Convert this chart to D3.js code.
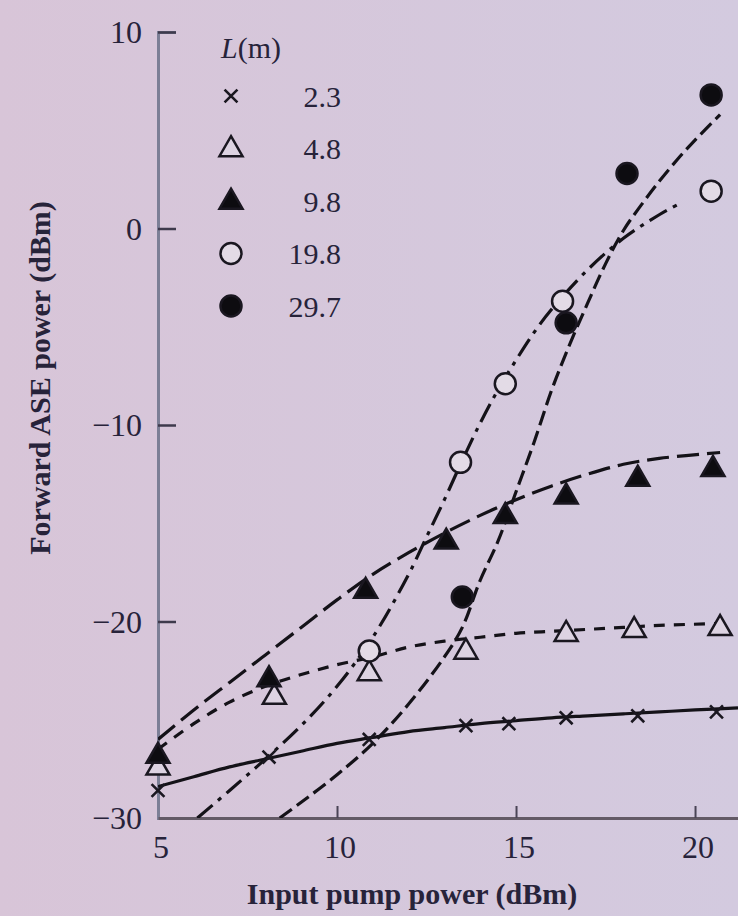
<!DOCTYPE html>
<html>
<head>
<meta charset="utf-8">
<script src="https://cdn.jsdelivr.net/npm/d3@7"></script>
<style>
  body { margin: 0; background: #d6c7db; }
  svg { display: block; }
  text { font-family: "Liberation Serif", "DejaVu Serif", serif; fill: #27233a; }
</style>
</head>
<body>
<svg id="chart" width="738" height="916"></svg>
<script>
// fibre lengths shown in the legend
var lengths = ["2.3", "4.8", "9.8", "19.8", "29.7"];
var xTicks = [5, 10, 15, 20];
var yTicks = [-30, -20, -10, 0, 10];

// measured points [pump dBm, ASE dBm]
var pts23 = [[5, -28.6], [8.1, -26.9], [10.9, -26.0], [13.6, -25.3], [14.8, -25.2], [16.4, -24.9], [18.4, -24.8], [20.6, -24.6]];
var pts48 = [[5, -27.4], [8.25, -23.8], [10.9, -22.6], [13.6, -21.5], [16.4, -20.6], [18.3, -20.4], [20.7, -20.3]];
var pts98 = [[5, -26.8], [8.1, -22.9], [10.8, -18.4], [13.05, -15.9], [14.7, -14.6], [16.4, -13.6], [18.4, -12.7], [20.5, -12.2]];
var pts198 = [[10.9, -21.5], [13.45, -11.9], [14.7, -7.9], [16.3, -3.7], [20.45, 1.9]];
var pts297 = [[13.5, -18.75], [16.4, -4.8], [18.1, 2.8], [20.45, 6.8]];

// fitted curves
var fit23 = [[5, -28.4], [6, -27.9], [7, -27.4], [8, -27.0], [9, -26.6], [10, -26.2], [11, -25.9], [12, -25.6], [13, -25.4], [14, -25.2], [15, -25.05], [16, -24.9], [17, -24.8], [18, -24.7], [19, -24.6], [20, -24.5], [21.2, -24.4]];
var fit48 = [[5, -26.5], [6, -25.2], [7, -24.1], [8, -23.3], [9, -22.7], [10, -22.2], [11, -21.8], [12, -21.3], [13, -21.0], [14, -20.8], [15, -20.6], [16, -20.5], [17, -20.4], [18, -20.3], [19, -20.2], [20.7, -20.1]];
var fit98 = [[5, -26.0], [6, -24.5], [7, -23.1], [8, -21.7], [9, -20.3], [10, -18.9], [11, -17.6], [12, -16.5], [13, -15.5], [14, -14.6], [15, -13.8], [16, -13.1], [17, -12.5], [18, -12.0], [19, -11.7], [20.7, -11.4]];
var fit198 = [[6.1, -30], [7, -28.6], [8, -27.0], [9, -25.3], [10, -23.3], [11, -20.8], [12, -17.6], [12.5, -15.7], [13, -13.8], [13.5, -11.8], [14, -9.9], [14.5, -8.2], [15, -6.7], [15.5, -5.3], [16, -4.1], [17, -2.1], [18, -0.5], [19, 0.7], [19.6, 1.3]];
var fit297 = [[8.4, -30], [9, -29.2], [10, -27.8], [11, -26.2], [12, -24.2], [13, -21.8], [13.5, -20.3], [14, -17.9], [14.5, -15.9], [15, -13.4], [15.5, -10.9], [16, -8.2], [16.5, -5.9], [17, -3.8], [17.5, -1.8], [18, -0.1], [18.5, 1.2], [19, 2.4], [19.5, 3.5], [20, 4.5], [20.7, 5.8]];

var series = [
  { pts: pts23, fit: fit23, sym: "cross", dash: null },
  { pts: pts48, fit: fit48, sym: "triOpen", dash: "11,9" },
  { pts: pts98, fit: fit98, sym: "triFill", dash: "22,8" },
  { pts: pts198, fit: fit198, sym: "circOpen", dash: "20,7,4,7" },
  { pts: pts297, fit: fit297, sym: "circFill", dash: "15,6" }
];

var svg = d3.select("#chart");

var defs = svg.append("defs");
var grad = defs.append("linearGradient").attr("id", "bg").attr("x1", 0).attr("x2", 1).attr("y1", 0).attr("y2", 0);
grad.append("stop").attr("offset", "0%").attr("stop-color", "#d8c5d8");
grad.append("stop").attr("offset", "100%").attr("stop-color", "#d3cadf");
svg.append("rect").attr("width", 738).attr("height", 916).attr("fill", "url(#bg)");

var x = d3.scaleLinear().domain([5, 21.2]).range([158, 738]);
var y = d3.scaleLinear().domain([-30, 10]).range([818, 32]);

defs.append("clipPath").attr("id", "plot")
  .append("rect").attr("x", 158).attr("y", 0).attr("width", 580).attr("height", 818);

// axes
var yAxis = svg.append("g").attr("transform", "translate(158,0)")
  .call(d3.axisRight(y).tickValues(yTicks).tickSize(18).tickFormat(""));
yAxis.select(".domain").attr("stroke", "#7c7f96").attr("stroke-width", 3);
yAxis.selectAll(".tick line").attr("stroke", "#3e3a4c").attr("stroke-width", 2.5);
yAxis.selectAll(".tick").filter(function(d) { return d === -30; }).remove();

var xAxis = svg.append("g").attr("transform", "translate(0,818)")
  .call(d3.axisTop(x).tickValues(xTicks).tickSize(12).tickFormat("").tickSizeOuter(0));
xAxis.select(".domain").attr("stroke", "#635a66").attr("stroke-width", 3);
xAxis.selectAll(".tick line").attr("stroke", "#4a4456").attr("stroke-width", 2);
xAxis.selectAll(".tick").filter(function(d) { return d === 5; }).remove();

svg.selectAll(".ylab").data(yTicks).enter().append("text")
  .attr("x", 142).attr("y", function(d) { return y(d); })
  .attr("dy", "0.35em").attr("text-anchor", "end")
  .style("font-size", "32px")
  .text(function(d) { return d < 0 ? "\u2212" + Math.abs(d) : d; });

svg.selectAll(".xlab").data(xTicks).enter().append("text")
  .attr("x", function(d) { return x(d) + 3; }).attr("y", 858)
  .attr("text-anchor", "middle")
  .style("font-size", "32px")
  .text(function(d) { return d; });

svg.append("text")
  .attr("transform", "translate(50,378) rotate(-90)")
  .attr("text-anchor", "middle")
  .style("font-size", "30px").style("font-weight", "bold")
  .text("Forward ASE power (dBm)");

svg.append("text")
  .attr("x", 412).attr("y", 904)
  .attr("text-anchor", "middle")
  .style("font-size", "30px").style("font-weight", "bold")
  .text("Input pump power (dBm)");

// fitted lines
var line = d3.line()
  .x(function(d) { return x(d[0]); })
  .y(function(d) { return y(d[1]); })
  .curve(d3.curveCatmullRom);

var plot = svg.append("g").attr("clip-path", "url(#plot)");

series.forEach(function(s) {
  plot.append("path")
    .datum(s.fit)
    .attr("d", line)
    .attr("fill", "none")
    .attr("stroke", "#141218")
    .attr("stroke-width", 3.2)
    .attr("stroke-dasharray", s.dash);
});

function drawSymbol(g, sym, cx, cy) {
  if (sym === "cross") {
    g.append("path")
      .attr("d", d3.symbol().type(d3.symbolX).size(110)())
      .attr("transform", "translate(" + cx + "," + cy + ")")
      .attr("fill", "none").attr("stroke", "#1a1720").attr("stroke-width", 2.6);
  } else if (sym === "triOpen" || sym === "triFill") {
    g.append("path")
      .attr("d", d3.symbol().type(d3.symbolTriangle).size(230)())
      .attr("transform", "translate(" + cx + "," + (cy + 1) + ")")
      .attr("fill", sym === "triFill" ? "#0d0c10" : "#ddd3e2")
      .attr("stroke", "#1a1720").attr("stroke-width", 2.5);
  } else {
    g.append("circle")
      .attr("cx", cx).attr("cy", cy).attr("r", 10.5)
      .attr("fill", sym === "circFill" ? "#0d0c10" : "#e3dbe6")
      .attr("stroke", "#1a1720").attr("stroke-width", 2.5);
  }
}

var marks = svg.append("g");
series.forEach(function(s) {
  s.pts.forEach(function(p) {
    drawSymbol(marks, s.sym, x(p[0]), y(p[1]));
  });
});

// legend
var legend = svg.append("g");
var lt = legend.append("text").attr("x", 221).attr("y", 58).style("font-size", "30px");
lt.append("tspan").style("font-style", "italic").text("L");
lt.append("tspan").text("(m)");

lengths.forEach(function(l, i) {
  var cy = 96 + i * 52.5;
  drawSymbol(legend, series[i].sym, 231, cy);
  legend.append("text")
    .attr("x", 341).attr("y", cy).attr("dy", "0.35em")
    .attr("text-anchor", "end")
    .style("font-size", "30px")
    .text(l);
});
</script>
</body>
</html>
